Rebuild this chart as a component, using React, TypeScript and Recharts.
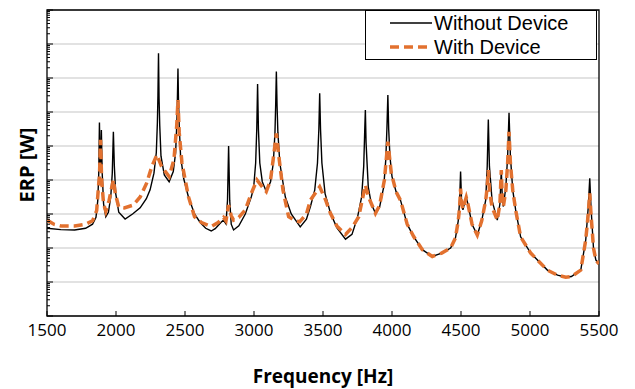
import { LineChart, Line, XAxis, YAxis, CartesianGrid, Label, ReferenceArea } from 'recharts';

// x axis
const freqTicks = [1500, 2000, 2500, 3000, 3500, 4000, 4500, 5000, 5500];
// y axis decades (no labels in the original, only log ticks)
const decades = [1e-9, 1e-8, 1e-7, 1e-6, 1e-5, 1e-4, 1e-3, 1e-2, 1e-1, 1];

// ERP, stored as log10 values
const withoutFreq = [
  1500, 1600, 1700, 1780, 1830, 1855, 1868, 1875, 1880, 1885, 1889, 1894, 1900, 1910, 1926, 1945, 1962, 1973, 1981, 1988,
  1998, 2020, 2066, 2120, 2175, 2220, 2247, 2275, 2292, 2300, 2304, 2308, 2312, 2317, 2326, 2350, 2385, 2415, 2432, 2441,
  2445, 2449, 2453, 2458, 2468, 2490, 2525, 2569, 2610, 2650, 2690, 2719, 2760, 2779, 2797, 2808, 2816, 2824, 2835, 2852,
  2890, 2937, 2980, 2997, 3012, 3020, 3026, 3032, 3042, 3060, 3089, 3120, 3140, 3152, 3157, 3162, 3167, 3173, 3187, 3227,
  3270, 3335, 3380, 3409, 3440, 3460, 3470, 3476, 3482, 3492, 3515, 3554, 3600, 3663, 3710, 3750, 3780, 3795, 3802, 3807,
  3812, 3818, 3828, 3850, 3880, 3910, 3940, 3955, 3963, 3970, 3976, 3985, 4000, 4030, 4062, 4110, 4158, 4220, 4292, 4360,
  4425, 4460, 4480, 4490, 4497, 4504, 4514, 4530, 4538, 4550, 4580, 4618, 4650, 4679, 4690, 4698, 4706, 4725, 4763, 4782,
  4792, 4800, 4807, 4825, 4838, 4848, 4858, 4875, 4896, 4932, 5005, 5126, 5200, 5259, 5300, 5368, 5404, 5422, 5433, 5442,
  5460, 5477, 5500,
];
const withoutLogErp = [
  -6.42, -6.46, -6.47, -6.42, -6.3, -6.1, -5.6, -4.8, -3.31, -4.6, -4.5, -3.53, -4.8, -5.7, -6.08, -5.95, -5.5, -4.8, -3.58, -4.6,
  -5.4, -5.95, -6.15, -6.0, -5.82, -5.55, -5.29, -4.8, -4.2, -3.3, -2.5, -1.27, -2.6, -3.4, -4.3, -4.85, -5.05, -4.75, -4.2, -3.3,
  -2.6, -1.72, -2.7, -3.4, -4.3, -4.95, -5.5, -6.0, -6.25, -6.42, -6.5, -6.43, -6.25, -6.18, -6.29, -5.6, -4.0, -5.6, -6.3, -6.47,
  -6.35, -6.0, -5.5, -5.25, -4.5, -3.5, -2.18, -3.5, -4.5, -5.05, -5.34, -5.05, -4.5, -3.6, -2.8, -1.81, -2.8, -3.6, -4.5, -5.5,
  -6.0, -6.38, -6.15, -5.78, -5.3, -4.5, -3.5, -2.45, -3.5, -4.5, -5.4, -5.97, -6.4, -6.74, -6.6, -6.1, -5.5, -4.6, -3.6, -2.94,
  -3.9, -4.4, -5.2, -5.7, -5.98, -5.8, -5.2, -4.4, -3.5, -2.5, -3.5, -4.3, -4.9, -5.35, -5.6, -6.3, -6.67, -7.05, -7.25, -7.15,
  -7.0, -6.7, -6.2, -5.6, -4.75, -5.6, -5.88, -5.6, -5.51, -5.7, -6.3, -6.62, -6.2, -5.59, -4.6, -3.22, -4.6, -5.6, -6.18, -5.7,
  -4.71, -5.6, -5.78, -5.2, -4.3, -3.02, -4.3, -5.3, -5.88, -6.67, -7.15, -7.65, -7.8, -7.86, -7.84, -7.65, -6.76, -5.8, -4.95, -5.8,
  -7.0, -7.35, -7.47,
];

const withFreq = [
  1500, 1550, 1600, 1700, 1780, 1830, 1860, 1873, 1880, 1888, 1896, 1910, 1926, 1950, 1970, 1981, 1995, 2020, 2060, 2124,
  2175, 2221, 2260, 2296, 2330, 2385, 2420, 2440, 2449, 2458, 2478, 2525, 2569, 2620, 2690, 2740, 2779, 2797, 2816, 2835,
  2852, 2890, 2937, 2980, 3021, 3060, 3089, 3120, 3145, 3162, 3180, 3210, 3251, 3300, 3331, 3380, 3409, 3476, 3520, 3554,
  3600, 3663, 3710, 3759, 3807, 3830, 3880, 3910, 3945, 3970, 3995, 4030, 4062, 4110, 4158, 4220, 4292, 4360, 4425, 4460,
  4480, 4490, 4497, 4504, 4514, 4538, 4550, 4580, 4618, 4650, 4679, 4690, 4698, 4706, 4725, 4763, 4782, 4792, 4800, 4807,
  4825, 4838, 4848, 4858, 4875, 4896, 4932, 5005, 5126, 5200, 5259, 5300, 5368, 5404, 5422, 5433, 5442, 5460, 5477, 5500,
];
const withLogErp = [
  -6.18, -6.3, -6.35, -6.35, -6.3, -6.2, -5.9, -5.2, -4.9, -3.82, -5.0, -5.7, -5.92, -5.6, -5.2, -5.0, -5.4, -5.8, -5.82, -5.74,
  -5.5, -5.1, -4.6, -4.26, -4.6, -4.9, -4.4, -3.4, -2.65, -3.6, -4.5, -5.49, -6.08, -6.25, -6.37, -6.25, -6.1, -6.2, -5.74, -6.05,
  -6.18, -6.1, -5.88, -5.4, -5.0, -5.2, -5.34, -5.0, -4.2, -3.63, -4.3, -5.3, -6.08, -6.2, -6.23, -6.0, -5.59, -5.2, -5.6, -5.98,
  -6.35, -6.6, -6.4, -6.08, -5.15, -5.5, -5.98, -5.75, -5.0, -3.87, -4.8, -5.35, -5.6, -6.3, -6.67, -7.05, -7.25, -7.15, -7.0, -6.7,
  -6.2, -5.8, -5.25, -5.7, -5.85, -5.51, -5.7, -6.3, -6.62, -6.2, -5.6, -5.2, -4.71, -5.3, -5.8, -6.18, -5.7, -4.71, -5.6, -5.78,
  -5.3, -4.5, -3.58, -4.5, -5.3, -5.88, -6.67, -7.15, -7.65, -7.8, -7.86, -7.84, -7.65, -6.76, -6.0, -5.39, -6.0, -7.0, -7.35, -7.47,
];

const toPoints = (freqs: number[], logs: number[]) =>
  freqs.map((f, i) => ({ f, erp: Math.pow(10, logs[i]) }));

const withoutData = toPoints(withoutFreq, withoutLogErp);
const withData = toPoints(withFreq, withLogErp);

// log minor ticks 1..9 in every decade
const yTicks = decades.slice(0, -1).flatMap(d => [1, 2, 3, 4, 5, 6, 7, 8, 9].map(k => d * k)).concat([1]);

const FONT = '"Open Sans", sans-serif';
const ORANGE = '#E2712F';

function FreqTick({ x, y, payload }: any) {
  return (
    <g>
      <line x1={x} x2={x} y1={y} y2={y - 5} stroke="#000" strokeWidth={1} />
      <text x={x} y={y + 20} textAnchor="middle" fontFamily={FONT} fontSize={17} fill="#000">
        {payload.value}
      </text>
    </g>
  );
}

function LogTick({ x, y, payload }: any) {
  const l = Math.log10(payload.value);
  const major = Math.abs(l - Math.round(l)) < 1e-6;
  return <line x1={x} x2={x + (major ? 6 : 3)} y1={y} y2={y} stroke="#000" strokeWidth={1} />;
}

const legendRows = [
  { label: 'Without Device', color: '#000', width: 1.5, dash: undefined as string | undefined },
  { label: 'With Device', color: ORANGE, width: 3.5, dash: '9 5' },
];

function LegendBox() {
  return (
    <div
      style={{
        position: 'absolute',
        left: 365,
        top: 10,
        width: 230,
        height: 48,
        border: '1.5px solid #000',
        background: '#fff',
        fontFamily: '"Liberation Sans", Arial, sans-serif',
        fontSize: 20,
        lineHeight: '24px',
      }}
    >
      {legendRows.map(r => (
        <div key={r.label} style={{ display: 'flex', alignItems: 'center', height: 24 }}>
          <svg width={68} height={10} style={{ display: 'block' }}>
            <line x1={24} x2={66} y1={5} y2={5} stroke={r.color} strokeWidth={r.width} strokeDasharray={r.dash} />
          </svg>
          <span>{r.label}</span>
        </div>
      ))}
    </div>
  );
}

export default function App() {
  return (
    <div style={{ position: 'absolute', left: 0, top: 0, width: 635, height: 389, background: '#fff' }}>
      <LineChart width={635} height={389} margin={{ top: 10, right: 36, bottom: 0, left: 0 }}>
        <CartesianGrid vertical={false} horizontalValues={decades} stroke="#d9d9d9" strokeWidth={1.5} />
        <XAxis
          dataKey="f"
          type="number"
          domain={[1500, 5500]}
          ticks={freqTicks}
          allowDataOverflow
          interval={0}
          height={73}
          axisLine={false}
          tickLine={false}
          tickSize={0}
          tickMargin={0}
          tick={<FreqTick />}
        >
          <Label
            content={() => (
              <text x={323} y={383} textAnchor="middle" fontFamily={FONT} fontSize={19} fontWeight="bold" fill="#000">
                Frequency [Hz]
              </text>
            )}
          />
        </XAxis>
        <YAxis
          type="number"
          scale="log"
          domain={[1e-9, 1]}
          ticks={yTicks}
          allowDataOverflow
          interval={0}
          width={47}
          axisLine={false}
          tickLine={false}
          tickSize={0}
          tickMargin={0}
          tick={<LogTick />}
        >
          <Label
            content={() => (
              <text
                x={26}
                y={165}
                transform="rotate(-90 26 165)"
                textAnchor="middle"
                dominantBaseline="central"
                fontFamily={FONT}
                fontSize={20}
                fontWeight="bold"
                fill="#000"
              >
                ERP [W]
              </text>
            )}
          />
        </YAxis>
        <ReferenceArea x1={1500} x2={5500} y1={1e-9} y2={1} fill="none" stroke="#000" strokeWidth={1.3} />
        <Line
          data={withoutData}
          dataKey="erp"
          type="linear"
          stroke="#000"
          strokeWidth={1.4}
          dot={false}
          isAnimationActive={false}
          name="Without Device"
        />
        <Line
          data={withData}
          dataKey="erp"
          type="linear"
          stroke={ORANGE}
          strokeWidth={3.5}
          strokeDasharray="9 5"
          dot={false}
          isAnimationActive={false}
          name="With Device"
        />
      </LineChart>
      <LegendBox />
    </div>
  );
}
